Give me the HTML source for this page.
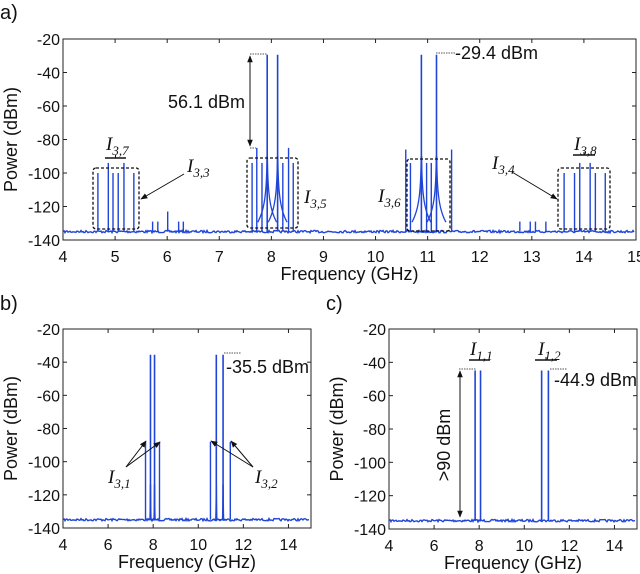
<!DOCTYPE html>
<html><head><meta charset="utf-8">
<style>
html,body{margin:0;padding:0;background:#fff;}
svg{display:block;}
text{font-family:"Liberation Sans",sans-serif;fill:#111;}
.tick{font-size:16px;}
.title{font-size:18px;}
.it{font-family:"Liberation Serif",serif;font-style:italic;}
</style></head>
<body>
<svg id="fig" width="640" height="574" viewBox="0 0 640 574">
<defs>
<marker id="ah" viewBox="0 0 10 10" refX="9" refY="5" markerWidth="7" markerHeight="7" orient="auto-start-reverse"><path d="M0,1 L10,5 L0,9 z" fill="#111"/></marker>
</defs>
</svg>
<script>
// ---- data ----
const noiseFloor = -135;
const yTicks = [-20,-40,-60,-80,-100,-120,-140];
const xTicksA = [4,5,6,7,8,9,10,11,12,13,14,15];
const xTicksBC = [4,6,8,10,12,14];
// panel a
const aMainFreqs = [7.92, 8.12, 10.88, 11.17];
const aMainPow = [-29.4, -29.4, -29.4, -29.4];
const aSideFreqs = [7.63,7.72,7.82,8.22,8.33,8.42, 10.58,10.67,10.98,11.07,11.46,
  4.67,4.87,4.96,5.06,5.17,5.36, 13.62,13.82,13.92,14.12,14.22,14.41,
  5.72,5.82,6.01,6.22,6.31, 12.77,12.97,13.07,13.27];
const aSidePow = [-94,-85,-94,-94,-85,-94, -86,-94,-94,-94,-86,
  -100,-94,-100,-100,-94,-100, -100,-100,-94,-94,-100,-100,
  -129,-129,-123,-129,-129, -129,-129,-129,-129];
// panel b
const bMainFreqs = [7.88, 8.06, 10.8, 11.1];
const bMainPow = [-35.5, -35.5, -35.5, -35.5];
const bSideFreqs = [7.66, 8.28, 10.54, 11.42];
const bSidePow = [-88, -88, -88, -88];
// panel c
const cMainFreqs = [7.82, 8.06, 10.77, 11.07];
const cMainPow = [-44.9, -44.9, -44.9, -44.9];

const NS='http://www.w3.org/2000/svg';
const svg=document.getElementById('fig');
function el(tag,attrs,parent){const e=document.createElementNS(NS,tag);for(const k in attrs)e.setAttribute(k,attrs[k]);(parent||svg).appendChild(e);return e;}
const BLUE='#1f45d8';

function makePanel(name,L,R,T,B,xmin,xmax,xticks,mainF,mainP,sideF,sideP,skirtA,skirtB){
  const g=el('g',{});
  
  
  const xs=v=>L+(v-xmin)/(xmax-xmin)*(R-L);
  const ys=v=>T+(-20-v)/120*(B-T);
  // baseline noise band (visual texture only)
  let seed=7;
  const rnd=()=>{seed=(seed*16807)%2147483647;return seed/2147483647;};
  let nd='M'+(L+1)+','+ys(noiseFloor);
  for(let x=L+1;x<R-1;x+=1){nd+=' L'+x+','+(ys(noiseFloor)+(rnd()-0.5)*2.4).toFixed(2);}
  const base=el('path',{d:nd,fill:'none',stroke:BLUE,'stroke-width':1.4},g);
  
  
  mainF.forEach((f,i)=>{
    if(!skirtA) return;
    let d='';
    for(let s=-1;s<=1;s+=2){
      let pts=[];
      for(let k=0;k<=40;k++){
        const dlt=0.004*Math.pow(1.1,k);
        let p=skirtA-skirtB*Math.log10(dlt)+(mainP[i]+29.4);
        p=Math.min(p,mainP[i]);
        if(p<noiseFloor)p=noiseFloor;
        pts.push([xs(f+s*dlt),ys(p)]);
      }
      d+='M'+pts.map(q=>q[0].toFixed(2)+','+q[1].toFixed(2)).join(' L');
    }
    const sk=el('path',{d:d,fill:'none',stroke:BLUE,'stroke-width':1.3},g);
    
    
  });
  sideF.forEach((f,i)=>{
    const ln=el('line',{x1:xs(f),x2:xs(f),y1:ys(noiseFloor),y2:ys(sideP[i]),stroke:BLUE,'stroke-width':1.4},g);
    
    
  });
  mainF.forEach((f,i)=>{
    const ln=el('line',{x1:xs(f),x2:xs(f),y1:ys(noiseFloor),y2:ys(mainP[i]),stroke:BLUE,'stroke-width':1.6},g);
    
    
  });
  const box=el('rect',{x:L,y:T,width:R-L,height:B-T,fill:'none',stroke:'#222','stroke-width':1},g);
  
  
  xticks.forEach(t=>{
    const x=xs(t);
    el('line',{x1:x,x2:x,y1:B,y2:B-4,stroke:'#222'},g);
    el('line',{x1:x,x2:x,y1:T,y2:T+4,stroke:'#222'},g);
    const tx=el('text',{x:x,y:B+22,'text-anchor':'middle',class:'tick'},g);
    tx.textContent=t;
    
    
  });
  yTicks.forEach(t=>{
    const y=ys(t);
    el('line',{x1:L,x2:L+4,y1:y,y2:y,stroke:'#222'},g);
    el('line',{x1:R,x2:R-4,y1:y,y2:y,stroke:'#222'},g);
    const tx=el('text',{x:L-3,y:y+6,'text-anchor':'end',class:'tick'},g);
    tx.textContent=t;
    
    
  });
  const xt=el('text',{x:(L+R)/2,y:B+40,'text-anchor':'middle',class:'title'},g);
  xt.textContent='Frequency (GHz)';
  
  
  const yx=L-46, yy=(T+B)/2;
  const yt=el('text',{x:yx,y:yy,'text-anchor':'middle',class:'title',transform:`rotate(-90 ${yx} ${yy})`},g);
  yt.textContent='Power (dBm)';
  
  
  return {xs,ys};
}

makePanel('panel-a',63,636,39,240,4,15,xTicksA,aMainFreqs,aMainPow,aSideFreqs,aSidePow,-147,23.8);
makePanel('panel-b',63,311,329,528,4,15,xTicksBC,bMainFreqs,bMainPow,bSideFreqs,bSidePow,-170,26);
makePanel('panel-c',389,637,329,529,4,15,xTicksBC,cMainFreqs,cMainPow,[],[],null,null);

function txt(s,x,y,name,extra){const t=el('text',Object.assign({x:x,y:y},extra||{}));t.textContent=s;return t;}
function ilabel(main,sub,x,y,name){
  const t=el('text',{x:x,y:y,class:'it','font-size':19});
  
  
  const a=el('tspan',{},t);a.textContent=main;
  const b=el('tspan',{'font-size':13,dy:5},t);b.textContent=sub;
}
function dline(x1,y1,x2,y2){el('line',{x1,y1,x2,y2,stroke:'#555','stroke-width':1,'stroke-dasharray':'1.5,1'});}
function arrow(x1,y1,x2,y2,both){const a=el('line',{x1,y1,x2,y2,stroke:'#111','stroke-width':1,'marker-end':'url(#ah)'});if(both)a.setAttribute('marker-start','url(#ah)');}
function dbox(x,y,w,h,name){const r=el('rect',{x,y,width:w,height:h,rx:3,fill:'none',stroke:'#111','stroke-width':1.3,'stroke-dasharray':'3,2'});}
function bracket(x1,x2,y){el('line',{x1,x2,y1:y,y2:y,stroke:'#111','stroke-width':1.4});el('line',{x1:(x1+x2)/2,x2:(x1+x2)/2,y1:y,y2:y-3,stroke:'#111'});}

txt('a)',0,19,'panel-a-label',{'font-size':20});
txt('b)',0,310,'panel-b-label',{'font-size':20});
txt('c)',326,310,'panel-c-label',{'font-size':20});

dbox(93,168,46,61,'box-i37');
dbox(247,158,51,70,'box-i35');
dbox(407,159,43,72,'box-i36');
dbox(558,168,52,61,'box-i38');
dline(250,54,267,54); dline(250,148,256,148);
arrow(250,56,250,146,true);
txt('56.1 dBm',168,108,'delta-annotation-a',{'font-size':18});
dline(436,53,455,53);
txt('-29.4 dBm',455,59,'peak-annotation-a',{'font-size':18});
ilabel('I','3,7',106,150,'label-i37'); bracket(105,126,158);
ilabel('I','3,3',187,172,'label-i33'); arrow(184,174,141,199);
ilabel('I','3,5',304,203,'label-i35');
ilabel('I','3,6',378,202,'label-i36');
ilabel('I','3,4',492,169,'label-i34'); arrow(512,172,557,199);
ilabel('I','3,8',574,150,'label-i38'); bracket(573,595,155);

dline(224,353,241,353);
txt('-35.5 dBm',226,373,'peak-annotation-b',{'font-size':18});
ilabel('I','3,1',108,483,'label-i31');
arrow(126,467,146,441); arrow(126,467,160,442);
ilabel('I','3,2',255,483,'label-i32');
arrow(253,467,211,441); arrow(253,467,231,441);

dline(459,369,476,369); dline(550,369,567,369);
arrow(460,371,460,517,true);
txt('>90 dBm',0,0,'delta-annotation-c',{'font-size':18,'text-anchor':'middle',transform:'translate(450,445) rotate(-90)'});
txt('-44.9 dBm',554,386,'peak-annotation-c',{'font-size':18});
ilabel('I','1,1',470,355,'label-i11'); bracket(469,490,360);
ilabel('I','1,2',538,355,'label-i12'); bracket(535,557,360);
</script>
</body></html>
